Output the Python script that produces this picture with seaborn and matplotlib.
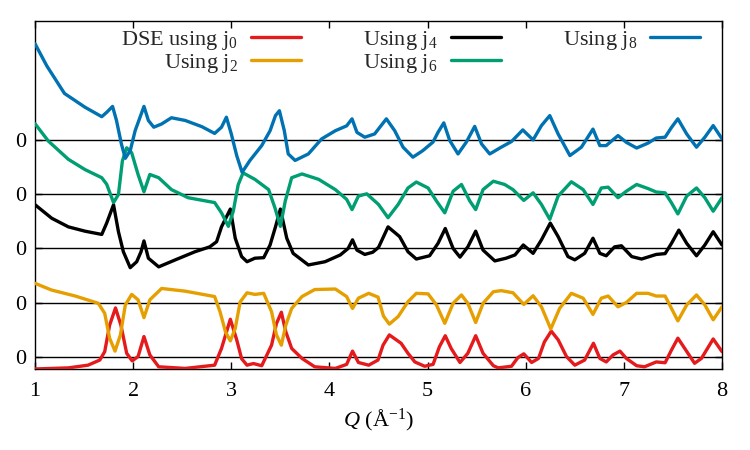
import numpy as np
import pandas as pd
import seaborn as sns
import matplotlib.pyplot as plt

# 각 곡선: [Q, 값] 쌍 (기준선 0 기준, 그릴 때 위로 쌓음)
pts_j0 = np.array([
    [1.00, -0.23], [1.34, -0.21], [1.54, -0.16], [1.66, -0.065], [1.71, 0.09],
    [1.76, 0.58], [1.82, 0.90], [1.875, 0.58], [1.934, 0.06], [1.99, -0.08],
    [2.05, 0.00], [2.11, 0.37], [2.17, 0.03], [2.26, -0.19], [2.53, -0.22],
    [2.83, -0.16], [2.90, 0.15], [2.99, 0.69], [3.055, 0.31], [3.105, -0.04],
    [3.16, -0.16], [3.225, -0.13], [3.31, -0.17], [3.41, 0.21], [3.46, 0.61],
    [3.51, 0.82], [3.555, 0.46], [3.615, 0.15], [3.72, -0.035], [3.85, -0.19],
    [4.06, -0.22], [4.175, -0.145], [4.235, 0.10], [4.295, -0.11], [4.40, -0.16],
    [4.495, -0.065], [4.546, 0.21], [4.61, 0.40], [4.68, 0.31], [4.73, 0.245],
    [4.80, 0.06], [4.87, -0.10], [4.97, -0.18], [5.056, -0.145], [5.12, 0.18],
    [5.18, 0.385], [5.24, 0.15], [5.33, -0.11], [5.41, 0.06], [5.49, 0.385],
    [5.565, 0.06], [5.67, -0.17], [5.72, -0.21], [5.855, -0.18], [5.92, -0.02],
    [5.98, 0.05], [6.06, -0.11], [6.13, -0.035], [6.19, 0.27], [6.26, 0.47],
    [6.33, 0.31], [6.415, 0.00], [6.50, -0.16], [6.60, -0.065], [6.69, 0.245],
    [6.755, -0.035], [6.82, -0.10], [6.89, 0.03], [6.96, 0.10], [7.025, -0.035],
    [7.13, -0.17], [7.21, -0.19], [7.33, -0.10], [7.42, -0.115], [7.485, 0.12],
    [7.55, 0.34], [7.62, 0.15], [7.72, -0.125], [7.79, -0.035], [7.91, 0.325],
    [8.00, 0.09]])

pts_j2 = np.array([
    [1.00, 0.355], [1.17, 0.23], [1.41, 0.12], [1.645, -0.015], [1.71, -0.20],
    [1.76, -0.66], [1.815, -0.90], [1.87, -0.60], [1.92, -0.045], [1.985, 0.15],
    [2.05, 0.05], [2.11, -0.28], [2.17, 0.05], [2.29, 0.26], [2.53, 0.21],
    [2.83, 0.11], [2.885, -0.17], [2.94, -0.54], [2.99, -0.71], [3.04, -0.48],
    [3.09, 0.01], [3.16, 0.18], [3.24, 0.15], [3.33, 0.17], [3.41, -0.17],
    [3.46, -0.60], [3.51, -0.79], [3.555, -0.42], [3.615, -0.11], [3.72, 0.11],
    [3.85, 0.24], [4.06, 0.25], [4.175, 0.11], [4.235, -0.11], [4.295, 0.08],
    [4.40, 0.17], [4.495, 0.10], [4.55, -0.25], [4.61, -0.40], [4.70, -0.26],
    [4.80, 0.015], [4.885, 0.17], [5.005, 0.16], [5.09, -0.045], [5.175, -0.385],
    [5.26, -0.015], [5.345, 0.14], [5.41, -0.015], [5.49, -0.37], [5.565, -0.015],
    [5.67, 0.20], [5.75, 0.22], [5.87, 0.18], [5.98, -0.035], [6.075, 0.125],
    [6.16, -0.08], [6.255, -0.49], [6.345, -0.11], [6.465, 0.17], [6.585, 0.08],
    [6.685, -0.22], [6.77, 0.08], [6.84, 0.12], [6.94, -0.08], [7.025, 0.00],
    [7.13, 0.17], [7.245, 0.17], [7.33, 0.12], [7.42, 0.12], [7.485, -0.11],
    [7.55, -0.34], [7.64, -0.045], [7.74, 0.14], [7.825, -0.045], [7.91, -0.32],
    [8.00, -0.08]])

pts_j4 = np.array([
    [1.00, 0.81], [1.17, 0.56], [1.34, 0.40], [1.51, 0.32], [1.68, 0.26],
    [1.73, 0.47], [1.80, 0.81], [1.85, 0.31], [1.90, -0.06], [1.97, -0.355],
    [2.036, -0.245], [2.08, -0.06], [2.11, 0.14], [2.155, -0.18], [2.26, -0.34],
    [2.43, -0.21], [2.63, -0.06], [2.78, 0.03], [2.85, 0.125], [2.90, 0.40],
    [2.99, 0.73], [3.04, 0.19], [3.105, -0.15], [3.16, -0.245], [3.24, -0.18],
    [3.33, -0.17], [3.395, 0.065], [3.45, 0.40], [3.50, 0.73], [3.565, 0.19],
    [3.63, -0.09], [3.785, -0.305], [3.955, -0.245], [4.11, -0.12], [4.19, 0.00],
    [4.235, 0.16], [4.28, -0.03], [4.36, -0.11], [4.44, -0.07], [4.50, 0.02],
    [4.597, 0.40], [4.715, 0.22], [4.80, -0.06], [4.885, -0.195], [5.02, -0.135],
    [5.106, 0.095], [5.18, 0.37], [5.26, 0.00], [5.33, -0.16], [5.41, 0.03],
    [5.49, 0.32], [5.565, -0.03], [5.685, -0.23], [5.80, -0.18], [5.89, -0.12],
    [5.975, 0.065], [6.075, -0.09], [6.16, 0.16], [6.25, 0.47], [6.33, 0.22],
    [6.43, -0.15], [6.50, -0.21], [6.60, -0.09], [6.685, 0.19], [6.755, -0.09],
    [6.82, -0.135], [6.905, 0.03], [6.975, 0.05], [7.08, -0.15], [7.18, -0.195],
    [7.33, -0.11], [7.42, -0.095], [7.485, 0.095], [7.56, 0.34], [7.64, 0.095],
    [7.74, -0.135], [7.825, 0.065], [7.91, 0.31], [8.00, 0.065]])

pts_j6 = np.array([
    [1.00, 1.31], [1.135, 0.99], [1.34, 0.65], [1.51, 0.46], [1.68, 0.31],
    [1.73, 0.19], [1.80, -0.15], [1.85, 0.00], [1.89, 0.62], [1.934, 0.864],
    [1.985, 0.77], [2.05, 0.37], [2.11, 0.05], [2.17, 0.37], [2.26, 0.31],
    [2.39, 0.09], [2.56, -0.06], [2.83, -0.15], [2.90, -0.34], [2.97, -0.59],
    [3.02, -0.31], [3.07, 0.18], [3.12, 0.40], [3.24, 0.28], [3.38, 0.09],
    [3.445, -0.25], [3.50, -0.59], [3.55, -0.12], [3.615, 0.31], [3.72, 0.38],
    [3.89, 0.28], [4.06, 0.09], [4.175, -0.09], [4.23, -0.28], [4.295, -0.03],
    [4.38, 0.012], [4.50, -0.185], [4.597, -0.43], [4.70, -0.185], [4.80, 0.12],
    [4.885, 0.23], [5.005, 0.12], [5.09, -0.12], [5.175, -0.34], [5.26, 0.06],
    [5.345, 0.185], [5.43, -0.12], [5.49, -0.28], [5.565, 0.09], [5.67, 0.245],
    [5.785, 0.185], [5.87, 0.09], [5.98, -0.11], [6.075, 0.03], [6.16, -0.185],
    [6.245, -0.46], [6.33, -0.03], [6.465, 0.235], [6.585, 0.09], [6.685, -0.185],
    [6.77, 0.12], [6.84, 0.135], [6.94, -0.06], [7.025, 0.06], [7.13, 0.185],
    [7.245, 0.11], [7.33, 0.045], [7.42, 0.03], [7.485, -0.155], [7.55, -0.36],
    [7.64, -0.03], [7.74, 0.12], [7.825, -0.06], [7.91, -0.31], [8.00, -0.06]])

pts_j8 = np.array([
    [1.00, 1.79], [1.12, 1.38], [1.30, 0.87], [1.51, 0.614], [1.68, 0.44],
    [1.73, 0.52], [1.79, 0.63], [1.83, 0.37], [1.88, -0.065], [1.92, -0.33],
    [1.97, -0.19], [2.02, 0.18], [2.07, 0.43], [2.11, 0.63], [2.155, 0.37],
    [2.21, 0.245], [2.29, 0.305], [2.39, 0.42], [2.53, 0.37], [2.70, 0.255],
    [2.83, 0.13], [2.90, 0.245], [2.95, 0.43], [3.00, 0.12], [3.055, -0.28],
    [3.11, -0.59], [3.19, -0.37], [3.31, -0.095], [3.395, 0.18], [3.45, 0.46],
    [3.49, 0.55], [3.54, 0.18], [3.58, -0.25], [3.65, -0.37], [3.785, -0.25],
    [3.92, 0.028], [4.06, 0.18], [4.175, 0.27], [4.23, 0.40], [4.28, 0.15],
    [4.36, 0.06], [4.46, 0.12], [4.58, 0.40], [4.665, 0.18], [4.75, -0.125],
    [4.85, -0.31], [4.95, -0.19], [5.055, -0.03], [5.106, 0.15], [5.165, 0.325],
    [5.225, 0.00], [5.31, -0.25], [5.395, -0.03], [5.48, 0.26], [5.55, -0.065],
    [5.633, -0.25], [5.75, -0.125], [5.855, -0.02], [5.97, 0.195], [6.075, 0.01],
    [6.16, 0.275], [6.245, 0.46], [6.33, 0.12], [6.45, -0.28], [6.567, -0.125],
    [6.685, 0.21], [6.755, -0.095], [6.82, -0.095], [6.94, 0.09], [7.025, -0.035],
    [7.13, -0.14], [7.245, -0.05], [7.33, 0.045], [7.42, 0.06], [7.485, 0.24],
    [7.55, 0.40], [7.64, 0.12], [7.74, -0.125], [7.825, 0.06], [7.91, 0.275],
    [8.00, 0.03]])

labels = [r'DSE using j$_\mathrm{0}$', r'Using j$_\mathrm{2}$', r'Using j$_\mathrm{4}$',
          r'Using j$_\mathrm{6}$', r'Using j$_\mathrm{8}$']
offsets = [0, 1, 2, 3, 4]
colors = ['#e41a1c', '#e69f00', 'black', '#009e73', '#0072b2']

sns.set_theme(style="ticks")
plt.rcParams['font.family'] = ['Liberation Serif', 'DejaVu Serif']
plt.rcParams['mathtext.fontset'] = 'custom'
plt.rcParams['mathtext.rm'] = 'Liberation Serif'
plt.rcParams['mathtext.it'] = 'Liberation Serif:italic'

fig = plt.figure(figsize=(7.5, 4.5), dpi=100)
ax = fig.add_axes([0.0467, 0.1789, 0.916, 0.7755])

series = [pts_j0, pts_j2, pts_j4, pts_j6, pts_j8]
for pts, off, c, lab in zip(series, offsets, colors, labels):
    ax.axhline(off, color='black', lw=1, zorder=1)
    sns.lineplot(x=pts[:, 0], y=pts[:, 1] + off, color=c, lw=2.4, label=lab,
                 estimator=None, ax=ax, zorder=3, solid_joinstyle='round',
                 solid_capstyle='round')

ax.set_xlim(1, 8)
ax.set_ylim(-0.24, 6.22)
ax.set_xticks(range(1, 9))
ax.set_yticks(offsets, ['0'] * 5)
ax.tick_params(direction='in', top=True, right=True, length=5, width=1,
               labelsize=16, colors='black')
ax.tick_params(axis='x', pad=9)
ax.tick_params(axis='y', pad=6)
for sp in ax.spines.values():
    sp.set_color('black')
    sp.set_linewidth(1)

ax.set_xlabel(r'$Q$ (Å$^{-1}$)', fontsize=16, color='black', labelpad=4)
ax.set_ylabel('')

ax.legend(ncols=3, loc='upper right', bbox_to_anchor=(0.968, 0.975),
          frameon=False, markerfirst=False, handlelength=2.25, handletextpad=0.58,
          columnspacing=2.8, labelspacing=0.0, borderpad=0, borderaxespad=0,
          fontsize=16)

fig.savefig('out.png', dpi=100)
